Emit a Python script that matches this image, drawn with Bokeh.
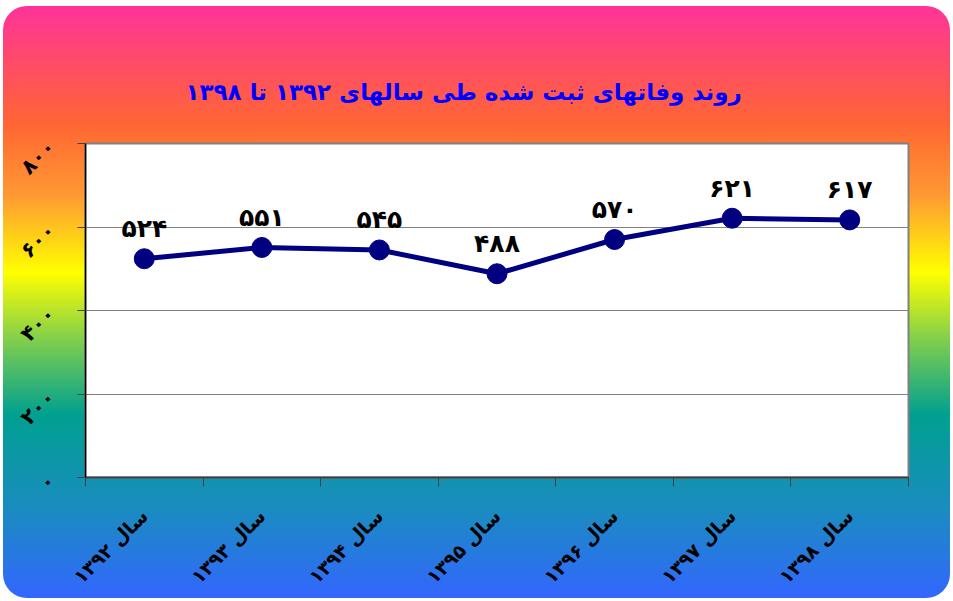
from math import pi
from bokeh.plotting import figure
from bokeh.models import Range1d, FixedTicker, ColumnDataSource
from bokeh.core.properties import value
from bokeh.embed import file_html
from bokeh.resources import INLINE

# ---- data ----
title_text = "روند وفاتهای ثبت شده طی سالهای ۱۳۹۲ تا ۱۳۹۸"
categories = ["سال ۱۳۹۲", "سال ۱۳۹۳", "سال ۱۳۹۴", "سال ۱۳۹۵",
              "سال ۱۳۹۶", "سال ۱۳۹۷", "سال ۱۳۹۸"]
deaths = [524, 551, 545, 488, 570, 621, 617]
y_tick_values = [0, 200, 400, 600, 800]
y_tick_labels = ["۰", "۲۰۰", "۴۰۰", "۶۰۰", "۸۰۰"]

FA = str.maketrans("0123456789", "۰۱۲۳۴۵۶۷۸۹")
FONT = "DejaVu Sans"

xs = list(range(1, len(categories) + 1))
source = ColumnDataSource(dict(
    x=xs,
    y=deaths,
    label=[str(v).translate(FA) for v in deaths],
))

W, H = 947, 592
p = figure(width=W, height=H, output_backend="svg", toolbar_location=None,
           x_range=Range1d(0.5, len(categories) + 0.5),
           y_range=Range1d(y_tick_values[0], y_tick_values[-1]),
           min_border_left=82, min_border_right=42,
           min_border_top=137, min_border_bottom=115)

p.styles = {
    "background": "linear-gradient(to bottom, #FF3399 0%, #FF6633 20%, #FF9933 32%, "
                  "#FFFF00 45%, #7ACC50 57%, #00A090 69%, #1A8CC0 85%, #3366FF 100%)",
    "border-radius": "24px",
    "margin-left": "3px",
    "margin-top": "6px",
    "overflow": "hidden",
}
p.border_fill_color = None
p.background_fill_color = "white"
p.outline_line_color = "#808080"
p.outline_line_width = 2

# title
p.title.text = title_text
p.title.align = "left"
p.title.offset = 100
p.title.text_font = FONT
p.title.text_font_style = "bold"
p.title.text_font_size = "23px"
p.title.text_color = "#0000FF"
p.title.standoff = 78

# gridlines
p.xgrid.visible = False
p.ygrid.grid_line_color = "#808080"
p.ygrid.grid_line_width = 1
p.ygrid.ticker = FixedTicker(ticks=y_tick_values)

# y axis
p.yaxis.ticker = FixedTicker(ticks=y_tick_values)
p.yaxis.major_label_overrides = {v: t for v, t in zip(y_tick_values, y_tick_labels)}
p.yaxis.axis_line_color = "black"
p.yaxis.axis_line_width = 1.5
p.yaxis.major_tick_line_color = "#404040"
p.yaxis.major_tick_out = 8
p.yaxis.major_tick_in = 0
p.yaxis.minor_tick_line_color = None
p.yaxis.major_label_orientation = pi / 4
p.yaxis.major_label_standoff = 26
p.yaxis.major_label_text_font = FONT
p.yaxis.major_label_text_font_style = "bold"
p.yaxis.major_label_text_font_size = "21px"
p.yaxis.major_label_text_color = "black"

# x axis: labels at category centres, ticks at category boundaries
p.xaxis.ticker = FixedTicker(ticks=xs, minor_ticks=[x - 0.5 for x in xs] + [xs[-1] + 0.5])
p.xaxis.major_label_overrides = {x: c for x, c in zip(xs, categories)}
p.xaxis.major_tick_line_color = None
p.xaxis.minor_tick_line_color = "#404040"
p.xaxis.minor_tick_out = 9
p.xaxis.minor_tick_in = 0
p.xaxis.axis_line_color = "#404040"
p.xaxis.axis_line_width = 2
p.xaxis.major_label_orientation = pi / 4
p.xaxis.major_label_standoff = 26
p.xaxis.major_label_text_font = FONT
p.xaxis.major_label_text_font_style = "bold"
p.xaxis.major_label_text_font_size = "19px"
p.xaxis.major_label_text_color = "black"

# series
p.line("x", "y", source=source, line_color="#000080", line_width=5)
p.scatter("x", "y", source=source, size=20, fill_color="#000080", line_color="#000080")
p.text("x", "y", text="label", source=source, y_offset=-30,
       text_align="center", text_baseline="middle",
       text_font=value(FONT), text_font_style="bold", text_font_size="25px",
       text_color="black")

open("out.html", "w").write(file_html(p, INLINE))
